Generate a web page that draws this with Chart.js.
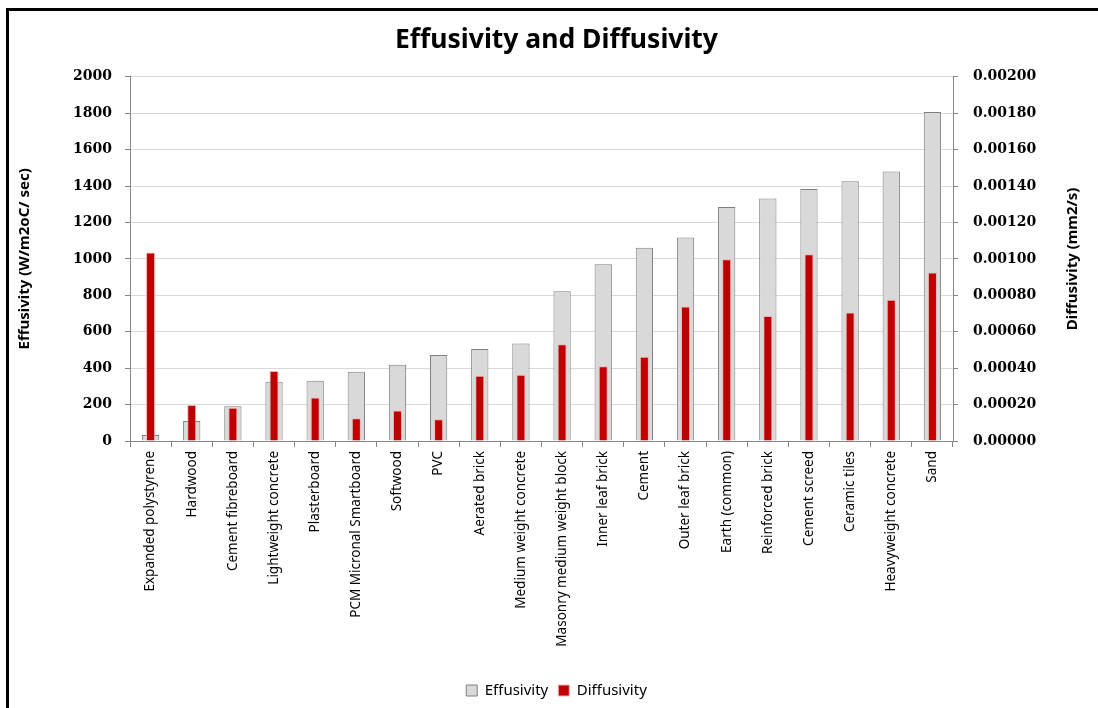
<!DOCTYPE html>
<html>
<head>
<meta charset="utf-8">
<script src="https://cdn.jsdelivr.net/npm/chart.js@4"></script>
<style>
  body { margin: 0; background: #fff; }
  .wrap { position: relative; width: 1098px; height: 708px; }
  .frame { position: absolute; left: 6px; top: 8px; right: 0; bottom: 0;
           border-top: 3px solid #000; border-left: 3px solid #000; pointer-events: none; }
  canvas { position: absolute; left: 0; top: 0; }
</style>
</head>
<body>
<div class="wrap">
  <canvas id="chartCanvas" width="1098" height="708"></canvas>
  <div class="frame"></div>
</div>
<script>
var materials = ['Expanded polystyrene', 'Hardwood', 'Cement fibreboard', 'Lightweight concrete',
    'Plasterboard', 'PCM Micronal Smartboard', 'Softwood', 'PVC', 'Aerated brick',
    'Medium weight concrete', 'Masonry medium weight block', 'Inner leaf brick', 'Cement',
    'Outer leaf brick', 'Earth (common)', 'Reinforced brick', 'Cement screed', 'Ceramic tiles',
    'Heavyweight concrete', 'Sand'];
var effusivity = [33, 110, 191, 325, 331, 380, 419, 472, 505, 535,
    822, 971, 1061, 1118, 1285, 1331, 1384, 1427, 1480, 1807];
var diffusivity = [0.001035, 0.000198, 0.000182, 0.000384, 0.000239, 0.000125, 0.000167, 0.000119, 0.000358, 0.000364,
    0.000531, 0.000410, 0.000463, 0.000739, 0.000998, 0.000686, 0.001026, 0.000706, 0.000776, 0.000926];
var rightTitle = 'Diffusivity (mm2/s)';

var axisGray = '#868686';
var ctx = document.getElementById('chartCanvas').getContext('2d');

// right axis title in Excel reads bottom-to-top, Chart.js rotates it the other way
var rightTitlePlugin = {
    id: 'rightTitle',
    afterDraw: function (chart) {
        var s = chart.scales.y1;
        var c = chart.ctx;
        c.save();
        c.translate(s.right - 25, (chart.chartArea.top + chart.chartArea.bottom) / 2);
        c.rotate(-Math.PI / 2);
        c.textAlign = 'center';
        c.textBaseline = 'middle';
        c.fillStyle = '#000';
        c.font = 'bold 15px "Noto Sans"';
        c.fillText(rightTitle, 0, 0);
        c.restore();
    }
};

var myChart = new Chart(ctx, {
    type: 'bar',
    data: {
        labels: materials,
        datasets: [{
            label: 'Effusivity',
            data: effusivity,
            yAxisID: 'y',
            backgroundColor: '#d9d9d9',
            borderColor: '#7f7f7f',
            borderWidth: 1,
            grouped: false,
            order: 1,
            barPercentage: 0.42,
            categoryPercentage: 1
        }, {
            label: 'Diffusivity',
            data: diffusivity,
            yAxisID: 'y1',
            backgroundColor: '#c00000',
            borderColor: '#f0b4b4',
            borderWidth: 1,
            grouped: false,
            order: 0,
            barPercentage: 0.22,
            categoryPercentage: 1
        }]
    },
    plugins: [rightTitlePlugin],
    options: {
        responsive: false,
        animation: false,
        layout: { padding: { left: 15, right: 0, top: 20, bottom: 0 } },
        plugins: {
            title: {
                display: true,
                text: 'Effusivity and Diffusivity',
                color: '#000',
                font: { family: 'Noto Sans', size: 26.5, weight: 'bold' },
                padding: { top: 5, bottom: 20 }
            },
            legend: {
                position: 'bottom',
                labels: {
                    color: '#000',
                    boxWidth: 11,
                    boxHeight: 11,
                    padding: 10,
                    font: { family: 'Noto Sans', size: 15 },
                    sort: function (a, b) { return a.datasetIndex - b.datasetIndex; }
                }
            },
            tooltip: { enabled: false }
        },
        scales: {
            x: {
                grid: { offset: true, drawOnChartArea: false, tickLength: 6, tickColor: axisGray },
                border: { color: axisGray },
                afterFit: function (scale) { scale.height = 232; },
                ticks: {
                    color: '#000',
                    autoSkip: false,
                    minRotation: 90,
                    maxRotation: 90,
                    padding: 4,
                    font: { family: 'Noto Sans', size: 13.5 }
                }
            },
            y: {
                position: 'left',
                min: 0,
                max: 2000,
                afterFit: function (scale) { scale.width = 115; },
                ticks: {
                    stepSize: 200,
                    color: '#000',
                    padding: 13,
                    font: { family: 'DejaVu Serif', size: 14, weight: 'bold' },
                    callback: function (v) { return v; }
                },
                grid: { color: '#d9d9d9', tickColor: axisGray, tickLength: 5 },
                border: { color: axisGray },
                title: {
                    display: true,
                    text: 'Effusivity (W/m2oC/ sec)',
                    color: '#000',
                    font: { family: 'Noto Sans', size: 15, weight: 'bold' },
                    padding: { top: 1, bottom: 0 }
                }
            },
            y1: {
                position: 'right',
                min: 0,
                max: 0.002,
                afterFit: function (scale) { scale.width = 145; },
                ticks: {
                    stepSize: 0.0002,
                    color: '#000',
                    padding: 15,
                    font: { family: 'DejaVu Serif', size: 14, weight: 'bold' },
                    callback: function (v) { return Number(v).toFixed(5); }
                },
                grid: { drawOnChartArea: false, tickColor: axisGray, tickLength: 5 },
                border: { color: axisGray }
            }
        }
    }
});
</script>
</body>
</html>
